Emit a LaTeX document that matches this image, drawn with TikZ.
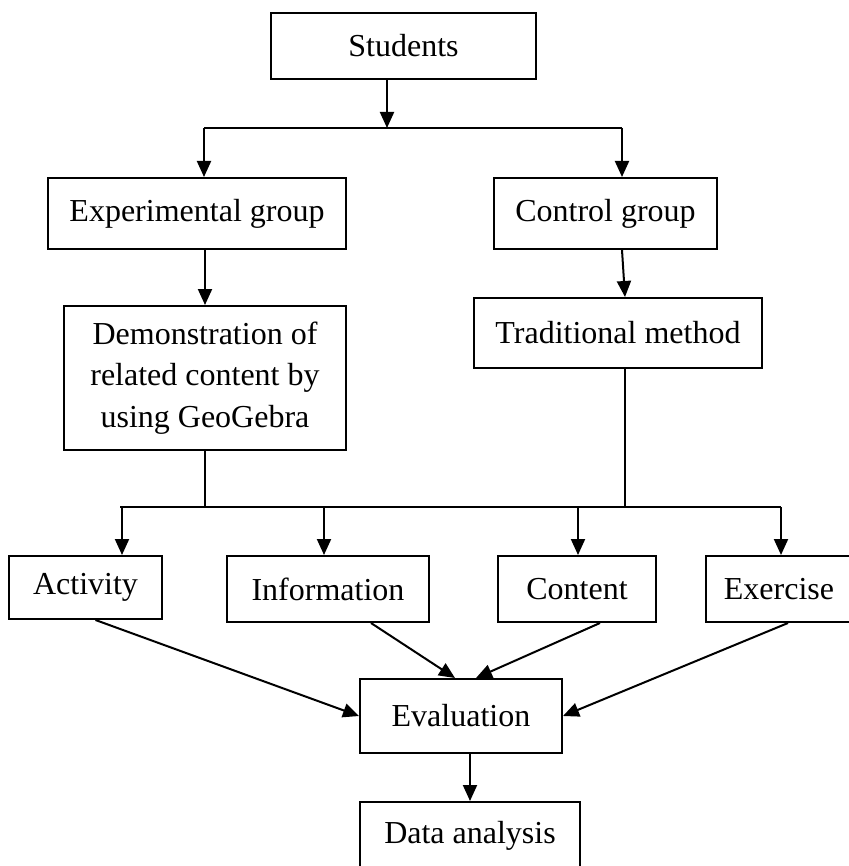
\documentclass[tikz,border=0pt]{standalone}
\usepackage{fontspec}
\setmainfont{Liberation Serif}
\usetikzlibrary{arrows.meta}

\begin{document}
\begin{tikzpicture}[x=0.5pt, y=-0.5pt, >={Triangle[length=8pt,width=7pt]},
        box/.style={draw, line width=1pt, inner sep=0pt, align=center,
            font=\fontsize{16}{20.7}\selectfont},
        link/.style={line width=1pt},
        thinlink/.style={line width=0.6pt}]
\useasboundingbox (0,0) rectangle (849,866);

\node[box, minimum width=132.5pt, minimum height=33pt] (students) at (403.5,46) {Students};
\node[box, minimum width=149pt, minimum height=35.5pt] (expgroup) at (197,213.5) {Experimental group};
\node[box, minimum width=111.5pt, minimum height=35.5pt] (ctrlgroup) at (605.5,213.5) {Control group};
\node[box, minimum width=141pt, minimum height=72pt] (demo) at (205,378)
    {Demonstration of\\ related content by\\ using GeoGebra};
\node[box, minimum width=144pt, minimum height=35pt] (trad) at (618,333) {Traditional method};

\node[box, minimum width=76.5pt, minimum height=31.5pt] (activity) at (85.5,587.5) {Activity};
\node[box, minimum width=101pt, minimum height=33pt] (info) at (328,589) {Information};
\node[box, minimum width=79pt, minimum height=33pt] (content) at (577,589) {Content};
\node[box, minimum width=73pt, minimum height=33pt] (exercise) at (779,589) {Exercise};

\node[box, minimum width=101pt, minimum height=37pt] (evaluation) at (461,716) {Evaluation};
\node[box, minimum width=110pt, minimum height=34pt] (data) at (470,836) {Data analysis};

% split after students
\coordinate (topsplit) at (387,128);
\coordinate (topleft) at (204,128);
\coordinate (topright) at (622,128);
\draw[link,->] (students.south -| topsplit) -- (topsplit);
\draw[link] (topleft) -- (topright);
\draw[link,->] (topleft) -- (expgroup.north -| topleft);
\draw[link,->] (topright) -- (ctrlgroup.north -| topright);

\draw[link,->] (expgroup.south -| demo.north) -- (demo.north);
\draw[link,->] (ctrlgroup.south -| topright) -- ([xshift=1.5pt]trad.north -| topright);

% join into the four parts
\coordinate (midleft) at (120,507);
\coordinate (midright) at (781,507);
\draw[thinlink] (demo.south) -- (demo.south |- midleft);
\draw[thinlink] (trad.south -| 625,0) -- (625,507);
\draw[link] (midleft) -- (midright);
\foreach \n/\xx in {activity/122, info/324, content/578, exercise/781}
    \draw[link,->] (\xx,507) -- (\n.north -| \xx,0);

\draw[link,->] ([xshift=5pt]activity.south) -- (evaluation.west);
\draw[link,->] ([xshift=21.5pt]info.south) -- ([xshift=-3pt]evaluation.north);
\draw[link,->] ([xshift=11.5pt]content.south) -- ([xshift=7.5pt]evaluation.north);
\draw[link,->] ([xshift=4.5pt]exercise.south) -- (evaluation.east);

\draw[link,->] (evaluation.south -| data.north) -- (data.north);

\end{tikzpicture}
\end{document}
